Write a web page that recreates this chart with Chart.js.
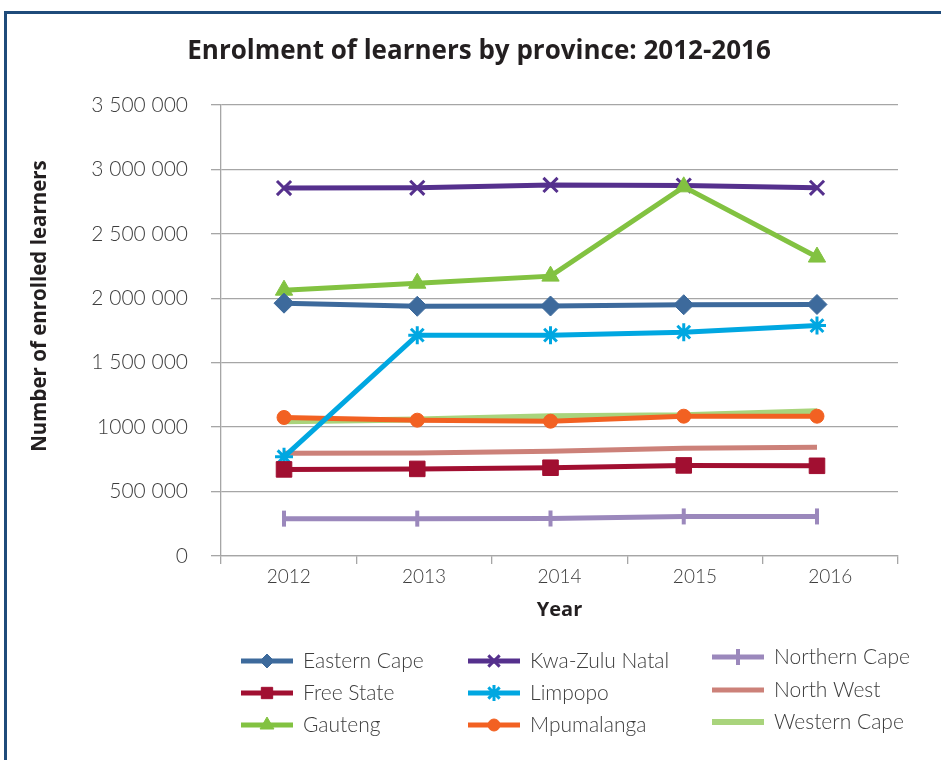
<!DOCTYPE html>
<html>
<head>
<meta charset="utf-8">
<script src="https://cdn.jsdelivr.net/npm/chart.js@4.4.1/dist/chart.umd.min.js"></script>
<style>
    html, body { margin: 0; padding: 0; background: #fff; overflow: hidden; }
    #wrap { position: relative; width: 941px; height: 760px; }
    #frame { position: absolute; left: 4px; top: 11px; width: 980px; height: 800px; border-top: 3px solid #1f4b7a; border-left: 3px solid #1f4b7a; box-sizing: border-box; pointer-events: none; }
    canvas { position: absolute; left: 0; top: 0; }
</style>
</head>
<body>
<div id="wrap">
    <div id="frame"></div>
    <canvas id="enrolChart" width="941" height="760"></canvas>
</div>
<script>
'use strict';

const chartTitle = 'Enrolment of learners by province: 2012-2016';
const yTitle = 'Number of enrolled learners';
const years = [2012, 2013, 2014, 2015, 2016];
const yTickLabels = ['0', '500 000', '1000 000', '1 500 000', '2 000 000', '2 500 000', '3 000 000', '3 500 000'];

const easternCape = [1962000, 1938000, 1940000, 1950000, 1952000];
const freeState = [672000, 676000, 685000, 703000, 700000];
const gauteng = [2063000, 2117000, 2172000, 2865000, 2320000];
const kwaZuluNatal = [2855000, 2857000, 2880000, 2875000, 2857000];
const limpopo = [770000, 1714000, 1714000, 1737000, 1788000];
const mpumalanga = [1075000, 1054000, 1046000, 1085000, 1085000];
const northernCape = [290000, 290000, 291000, 307000, 307000];
const northWest = [797000, 800000, 813000, 836000, 844000];
const westernCape = [1046000, 1060000, 1085000, 1093000, 1124000];

const textClr = '#3d3d3d';
const titleClr = '#231f20';
const gridClr = '#a6a6a6';
const lightFont = 'Lato, "Open Sans", sans-serif';
const boldFont = '"Open Sans", Lato, sans-serif';

function series(label, values, color, style, radius, legendRadius, markerWidth, extra) {
    return Object.assign({
        label,
        data: values.map((v, i) => ({ x: years[i], y: v })),
        xAxisID: 'xData',
        borderColor: color,
        backgroundColor: color,
        borderWidth: 5,
        tension: 0,
        pointStyle: style,
        pointRadius: radius,
        pointHoverRadius: radius,
        pointBackgroundColor: color,
        pointBorderColor: color,
        pointBorderWidth: markerWidth,
        legendRadius,
    }, extra || {});
}

// Title, y axis title and a three-column legend with line + marker swatches
const provinceLegend = {
    id: 'provinceLegend',
    afterDraw(chart) {
        const ctx = chart.ctx;
        const cols = [241, 468, 712];
        const rows = [[661, 693, 725], [661, 693, 725], [657, 690, 722]];
        const drawPoint = Chart.helpers && Chart.helpers.drawPoint;
        chart.data.datasets.forEach((ds, i) => {
            const c = Math.floor(i / 3), r = i % 3;
            const x = cols[c], y = rows[c][r];
            ctx.save();
            ctx.strokeStyle = ds.borderColor;
            ctx.lineWidth = ds.borderWidth;
            ctx.beginPath();
            ctx.moveTo(x, y);
            ctx.lineTo(x + 52, y);
            ctx.stroke();
            if (ds.pointRadius > 0 && drawPoint) {
                ctx.fillStyle = ds.pointBackgroundColor;
                ctx.strokeStyle = ds.pointBorderColor;
                ctx.lineWidth = ds.pointBorderWidth;
                drawPoint(ctx, { pointStyle: ds.pointStyle, rotation: ds.pointRotation || 0, radius: ds.legendRadius, borderWidth: ds.pointBorderWidth }, x + 26, y);
            }
            ctx.fillStyle = textClr;
            ctx.font = '300 21px ' + lightFont;
            ctx.textBaseline = 'middle';
            ctx.fillText(ds.label, x + 62, y);
            ctx.restore();
        });

        ctx.save();
        ctx.fillStyle = titleClr;
        ctx.font = 'bold 26px ' + boldFont;
        ctx.textAlign = 'center';
        ctx.textBaseline = 'middle';
        ctx.fillText(chartTitle, 479, 52);
        ctx.translate(40, 306);
        ctx.rotate(-Math.PI / 2);
        ctx.font = 'bold 20.5px ' + boldFont;
        ctx.fillText(yTitle, 0, 0);
        ctx.restore();
    },
};

new Chart(document.getElementById('enrolChart'), {
    type: 'line',
    data: {
        labels: years.map(String),
        datasets: [
            series('Eastern Cape', easternCape, '#3d6a9c', 'rectRot', 10, 7, 1),
            series('Free State', freeState, '#a10f31', 'rect', 11, 8, 1),
            series('Gauteng', gauteng, '#82c241', 'triangle', 10, 8, 1),
            series('Kwa-Zulu Natal', kwaZuluNatal, '#55308d', 'crossRot', 10, 8, 3),
            series('Limpopo', limpopo, '#00a7e1', 'star', 9, 8, 3),
            series('Mpumalanga', mpumalanga, '#f26122', 'circle', 7, 6, 1),
            series('Northern Cape', northernCape, '#9b88bc', 'line', 8, 8, 4, { pointRotation: 90 }),
            series('North West', northWest, '#cc8179', 'circle', 0, 0, 0),
            series('Western Cape', westernCape, '#a9d47c', 'circle', 0, 0, 0, { borderWidth: 6 }),
        ],
    },
    options: {
        responsive: false,
        animation: false,
        events: [],
        layout: { padding: { top: 105, left: 20, right: 43, bottom: 130 } },
        plugins: { legend: { display: false }, title: { display: false }, tooltip: { enabled: false } },
        scales: {
            x: {
                type: 'category',
                offset: true,
                grid: { offset: true, drawOnChartArea: false, color: gridClr, tickLength: 8, lineWidth: 1.3 },
                border: { color: gridClr, width: 1.3 },
                ticks: { color: textClr, padding: 1, font: { family: lightFont, size: 19, weight: '300' } },
                title: { display: true, text: 'Year', color: titleClr, padding: { top: 0, bottom: 8 }, font: { family: boldFont, size: 20, weight: 'bold' } },
                afterFit(scale) { scale.height = 74; },
            },
            xData: {
                type: 'linear',
                display: false,
                position: 'bottom',
                min: 2011.527,
                max: 2016.608,
            },
            y: {
                min: 0,
                max: 3500000,
                grid: { color: gridClr, tickLength: 10, lineWidth: 1.3 },
                border: { color: gridClr, width: 1.3 },
                ticks: {
                    stepSize: 500000,
                    padding: 23,
                    color: textClr,
                    font: { family: lightFont, size: 21, weight: '300' },
                    callback: (v, i) => yTickLabels[i],
                },
                afterFit(scale) { scale.width = 201; },
            },
        },
    },
    plugins: [provinceLegend],
});
</script>
</body>
</html>
